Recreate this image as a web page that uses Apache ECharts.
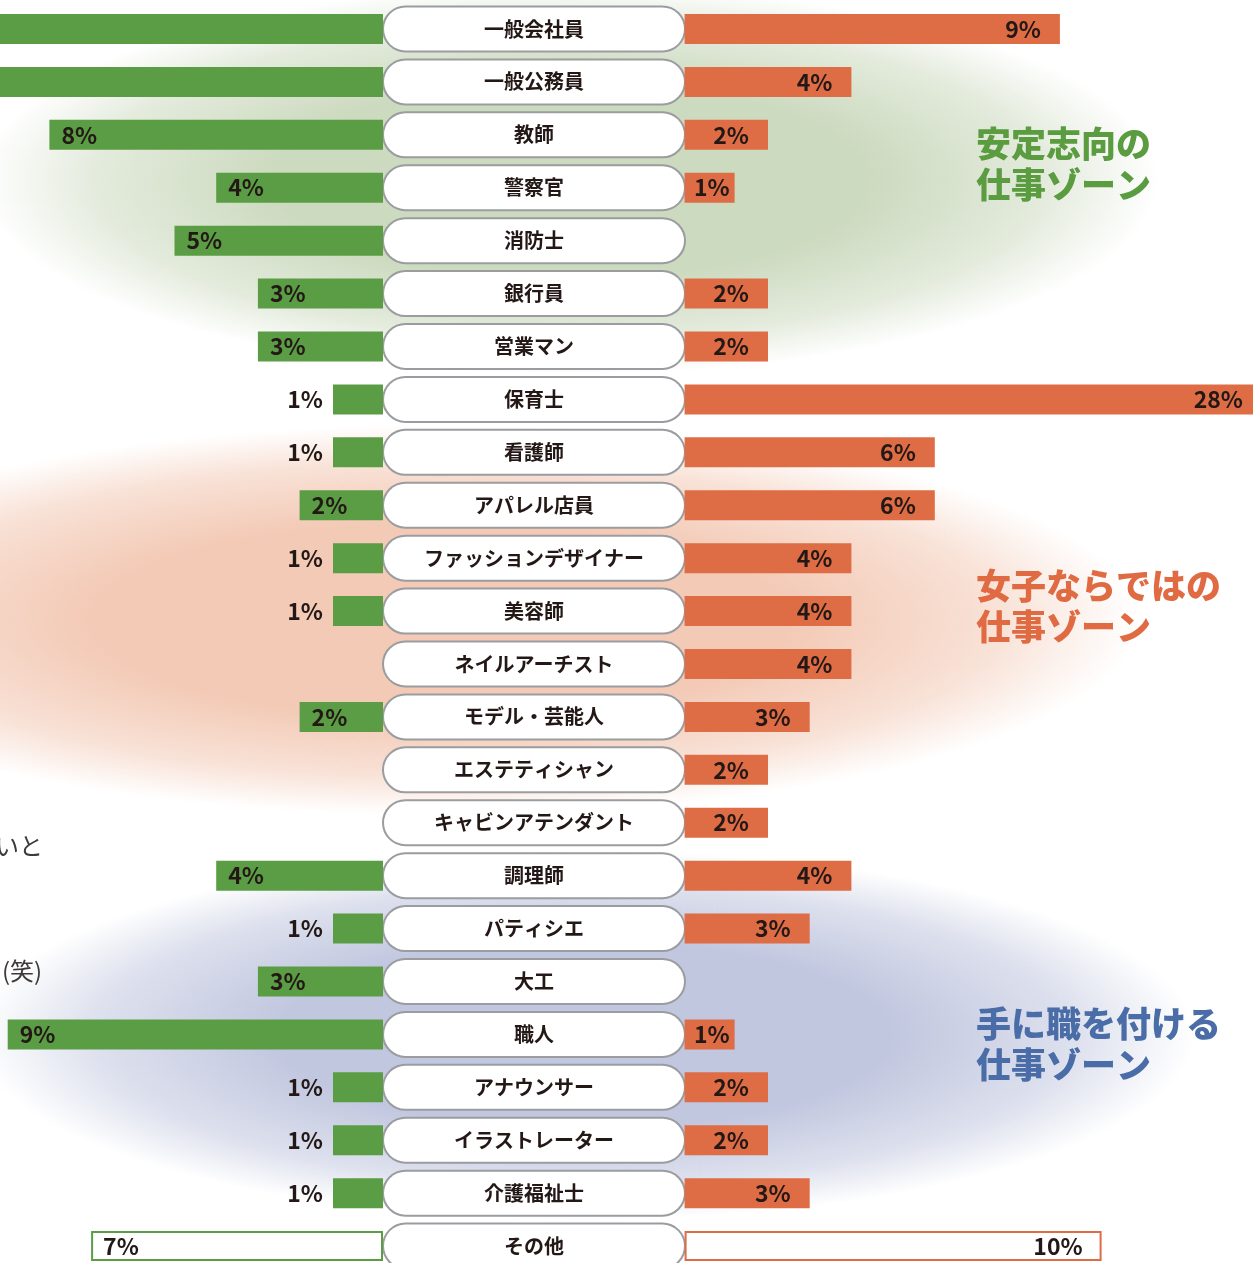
<!DOCTYPE html>
<html>
<head>
<meta charset="utf-8">
<script src="https://cdn.jsdelivr.net/npm/echarts@6/dist/echarts.min.js"></script>
<style>
  html, body { margin: 0; padding: 0; background: #fff; }
  #chart { width: 1253px; height: 1263px; }
</style>
</head>
<body>
<div id="chart"></div>
<script>
// 職業ごとの割合（%）, 左=緑, 右=オレンジ
const jobs = [
  '一般会社員', '一般公務員', '教師', '警察官', '消防士', '銀行員', '営業マン',
  '保育士', '看護師', 'アパレル店員', 'ファッションデザイナー', '美容師', 'ネイルアーチスト',
  'モデル・芸能人', 'エステティシャン', 'キャビンアテンダント', '調理師', 'パティシエ',
  '大工', '職人', 'アナウンサー', 'イラストレーター', '介護福祉士', 'その他'
];
// 先頭2つは画像の外まで伸びていて数値が読めないので推定
const greenShare = [14, 12, 8, 4, 5, 3, 3, 1, 1, 2, 1, 1, null, 2, null, null, 4, 1, 3, 9, 1, 1, 1, 7];
const orangeShare = [9, 4, 2, 1, null, 2, 2, 28, 6, 6, 4, 4, 4, 3, 2, 2, 4, 3, null, 1, 2, 2, 3, 10];
const zoneTitles = ['安定志向の\n仕事ゾーン', '女子ならではの\n仕事ゾーン', '手に職を付ける\n仕事ゾーン'];

const GREEN = '#5a9d45';
const ORANGE = '#de6c45';
const INK = '#231815';
const FONT = '"Noto Sans CJK JP", "Noto Sans", sans-serif';

const PX = 41.7;           // 1% あたりのピクセル
const LEFT_ZERO = 383;     // 緑の棒の根元
const RIGHT_ZERO = 684.6;  // オレンジの棒の根元
const RIGHT_EDGE = 1262;   // 28%の棒はここで切る（画面の少し外）
const LEFT_MAX = 16;
const RIGHT_MAX = (RIGHT_EDGE - RIGHT_ZERO) / PX;

const labelFont = { fontFamily: FONT, fontSize: 23, fontWeight: 'bold', color: INK };

function greenItem(v, i) {
  if (v == null) return '-';
  let item = { value: v };
  if (v <= 1) item.label = { position: 'left', distance: 10 };
  if (i === jobs.length - 1) item.itemStyle = { color: '#fff', borderColor: GREEN, borderWidth: 2 };
  return item;
}
function orangeItem(v, i) {
  if (v == null) return '-';
  let item = { value: v };
  if (v <= 1) item.label = { distance: 5 };
  if (i === jobs.length - 1) item.itemStyle = { color: '#fff', borderColor: ORANGE, borderWidth: 2 };
  return item;
}

// 背景のぼかし楕円
function blob(cx, cy, rx, ry, rgb) {
  return {
    type: 'circle', z: -10, silent: true,
    x: cx, y: cy, scaleX: rx / ry, scaleY: 1,
    shape: { cx: 0, cy: 0, r: ry },
    style: {
      fill: {
        type: 'radial', x: 0.5, y: 0.5, r: 0.5,
        colorStops: [
          { offset: 0, color: 'rgba(' + rgb + ',1)' },
          { offset: 0.5, color: 'rgba(' + rgb + ',1)' },
          { offset: 0.8, color: 'rgba(' + rgb + ',0.55)' },
          { offset: 1, color: 'rgba(' + rgb + ',0)' }
        ]
      }
    }
  };
}
function zoneText(text, y, color) {
  return {
    type: 'text', z: 10, silent: true, x: 976, y: y,
    style: { text: text, fill: color, fontFamily: FONT, fontSize: 35, fontWeight: 900, lineHeight: 41 }
  };
}

const chart = echarts.init(document.getElementById('chart'));
chart.setOption({
  animation: false,
  grid: [
    { left: LEFT_ZERO - LEFT_MAX * PX, width: LEFT_MAX * PX, top: 2.5, height: 1270, containLabel: false, outerBoundsMode: 'none' },
    { left: RIGHT_ZERO, width: RIGHT_EDGE - RIGHT_ZERO, top: 2.5, height: 1270, containLabel: false, outerBoundsMode: 'none' }
  ],
  xAxis: [
    { type: 'value', gridIndex: 0, inverse: true, min: 0, max: LEFT_MAX, show: false },
    { type: 'value', gridIndex: 1, min: 0, max: RIGHT_MAX, show: false }
  ],
  yAxis: [
    { type: 'category', gridIndex: 0, data: jobs, inverse: true, show: false },
    {
      type: 'category', gridIndex: 1, data: jobs, inverse: true,
      axisLine: { show: false }, axisTick: { show: false }, splitLine: { show: false },
      axisLabel: {
        interval: 0, margin: RIGHT_ZERO - 534, align: 'center',
        width: 300, height: 43, lineHeight: 43,
        backgroundColor: '#fff', borderColor: '#9b9ca0', borderWidth: 2, borderRadius: 22,
        fontFamily: FONT, fontSize: 20, fontWeight: 'bold', color: INK
      }
    }
  ],
  graphic: [
    blob(570, 180, 590, 195, '204,218,191'),
    blob(440, 620, 700, 195, '243,202,182'),
    blob(585, 1035, 610, 185, '193,199,223'),
    zoneText(zoneTitles[0], 123, '#5b9c40'),
    zoneText(zoneTitles[1], 565, '#e06b43'),
    zoneText(zoneTitles[2], 1003, '#4a6da8'),
    { type: 'text', silent: true, x: -5, y: 846, style: { text: 'いと', fill: '#3e3a39', fontFamily: FONT, fontSize: 24, verticalAlign: 'middle' } },
    { type: 'text', silent: true, x: 2, y: 971, style: { text: '(笑)', fill: '#3e3a39', fontFamily: FONT, fontSize: 24, verticalAlign: 'middle' } }
  ],
  series: [
    {
      type: 'bar', xAxisIndex: 0, yAxisIndex: 0, barWidth: 30, barMinHeight: 50, silent: true,
      data: greenShare.map(greenItem),
      itemStyle: { color: GREEN },
      label: Object.assign({ show: true, position: 'insideLeft', distance: 12, formatter: '{c}%' }, labelFont)
    },
    {
      type: 'bar', xAxisIndex: 1, yAxisIndex: 1, barWidth: 30, barMinHeight: 50, silent: true, clip: true,
      data: orangeShare.map(orangeItem),
      itemStyle: { color: ORANGE },
      label: Object.assign({ show: true, position: 'insideRight', distance: 19, formatter: '{c}%' }, labelFont)
    }
  ]
});
</script>
</body>
</html>
